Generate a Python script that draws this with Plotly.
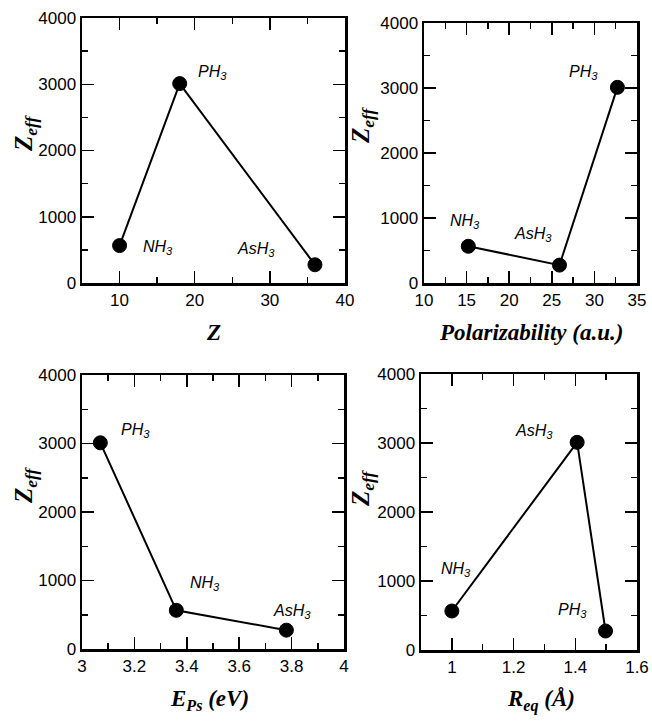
import plotly.graph_objects as go

W, H = 652, 722

# ---- data ----
z_x = [10, 18, 36]
z_y = [565, 3010, 275]
z_names = ["NH<sub>3</sub>", "PH<sub>3</sub>", "AsH<sub>3</sub>"]

pol_x = [15.2, 25.9, 32.7]
pol_y = [565, 275, 3010]
pol_names = ["NH<sub>3</sub>", "AsH<sub>3</sub>", "PH<sub>3</sub>"]

eps_x = [3.07, 3.36, 3.78]
eps_y = [3010, 565, 275]
eps_names = ["PH<sub>3</sub>", "NH<sub>3</sub>", "AsH<sub>3</sub>"]

req_x = [1.0, 1.406, 1.498]
req_y = [565, 3010, 275]
req_names = ["NH<sub>3</sub>", "AsH<sub>3</sub>", "PH<sub>3</sub>"]

y_ticks = [0, 1000, 2000, 3000, 4000]
z_ticks = [10, 20, 30, 40]
pol_ticks = [10, 15, 20, 25, 30, 35]
eps_ticks = [3, 3.2, 3.4, 3.6, 3.8, 4]
req_ticks = [1, 1.2, 1.4, 1.6]

# ---- style / layout (pixel based) ----
def px_x(p):
    return p / W

def px_y(p):
    return 1 - p / H

panels = [
    dict(x=z_x, y=z_y, names=z_names, xr=[5, 40], xt=z_ticks, m0=5, md=5,
         dom_x=(82, 345), dom_y=(18, 283),
         offs=[(38, 0), (33, 13), (-59, 17)]),
    dict(x=pol_x, y=pol_y, names=pol_names, xr=[10, 35], xt=pol_ticks, m0=10, md=2.5,
         dom_x=(424, 637), dom_y=(23, 283),
         offs=[(-3, 27), (-26, 33), (-34, 17)]),
    dict(x=eps_x, y=eps_y, names=eps_names, xr=[3, 4], xt=eps_ticks, m0=3, md=0.1,
         dom_x=(82, 344), dom_y=(375, 649),
         offs=[(35, 14), (29, 29), (6, 21)]),
    dict(x=req_x, y=req_y, names=req_names, xr=[0.9, 1.6], xt=req_ticks, m0=0.9, md=0.1,
         dom_x=(421, 637), dom_y=(374, 650),
         offs=[(4, 44), (-43, 13), (-33, 23)]),
]

tickfont = dict(family="Liberation Sans, Arial, sans-serif", size=17, color="black")
labfont = dict(family="Liberation Sans, Arial, sans-serif", size=16, color="black")
titlefont = dict(family="Liberation Serif, Times New Roman, serif", size=23, color="black")
ytitlefont = dict(family="Liberation Serif, Times New Roman, serif", size=25, color="black")

fig = go.Figure()
layout = dict(width=W, height=H, margin=dict(l=0, r=0, t=0, b=0, autoexpand=False),
              paper_bgcolor="white", plot_bgcolor="white", showlegend=False)
annotations = []

def axis_common():
    return dict(showline=True, linewidth=2.5, linecolor="black", mirror="ticks",
                ticks="inside", ticklen=12, tickwidth=1.5, tickcolor="black",
                showgrid=False, zeroline=False, tickfont=tickfont, fixedrange=True,
                automargin=False)

for i, p in enumerate(panels, start=1):
    xa = "x" if i == 1 else f"x{i}"
    ya = "y" if i == 1 else f"y{i}"
    fig.add_trace(go.Scatter(
        x=p["x"], y=p["y"], mode="lines+markers", xaxis=xa, yaxis=ya,
        line=dict(color="black", width=2),
        marker=dict(color="black", size=14, line=dict(color="black", width=1)),
        cliponaxis=False, hoverinfo="skip"))
    xd = axis_common()
    xd.update(range=p["xr"], domain=[px_x(p["dom_x"][0]), px_x(p["dom_x"][1])],
              anchor=ya, tickmode="array", tickvals=p["xt"],
              ticktext=[("%g" % v) for v in p["xt"]],
              minor=dict(ticks="inside", ticklen=6, tickwidth=1.5, tickcolor="black",
                         tick0=p["m0"], dtick=p["md"], showgrid=False))
    yd = axis_common()
    yd.update(range=[0, 4000], domain=[px_y(p["dom_y"][1]), px_y(p["dom_y"][0])],
              anchor=xa, tickmode="array", tickvals=y_ticks,
              ticktext=[str(v) for v in y_ticks],
              minor=dict(ticks="inside", ticklen=6, tickwidth=1.5, tickcolor="black",
                         tick0=0, dtick=500, showgrid=False))
    layout["xaxis" if i == 1 else f"xaxis{i}"] = xd
    layout["yaxis" if i == 1 else f"yaxis{i}"] = yd
    for xv, yv, nm, (dx, dy) in zip(p["x"], p["y"], p["names"], p["offs"]):
        annotations.append(dict(x=xv, y=yv, xref=xa, yref=ya, text=f"<i>{nm}</i>",
                                showarrow=False, xshift=dx, yshift=dy - 2, font=labfont))

# axis titles
x_titles = [
    ("<b><i>Z</i></b>", 213, 333),
    ("<b><i>Polarizability (a.u.)</i></b>", 531, 333),
    ("<b><i>E<sub>Ps</sub> (eV)</i></b>", 209, 700),
    ("<b><i>R<sub>eq</sub> (Å)</i></b>", 541, 700),
]
for txt, cx, cy in x_titles:
    annotations.append(dict(x=px_x(cx), y=px_y(cy), xref="paper", yref="paper", text=txt,
                            showarrow=False, font=titlefont, xanchor="center", yanchor="middle"))

y_title_pos = [(25, 133), (362, 125), (25, 485), (362, 488)]
for cx, cy in y_title_pos:
    annotations.append(dict(x=px_x(cx), y=px_y(cy), xref="paper", yref="paper",
                            text="<b><i>Z</i></b><sub><b><i>eff</i></b></sub>", textangle=-90,
                            showarrow=False, font=ytitlefont, xanchor="center", yanchor="middle"))

layout["annotations"] = annotations
fig.update_layout(**layout)
fig.write_html("out.html", config={"displayModeBar": False, "staticPlot": True},
               post_script="document.body.style.margin='0';document.body.style.overflow='hidden';")
